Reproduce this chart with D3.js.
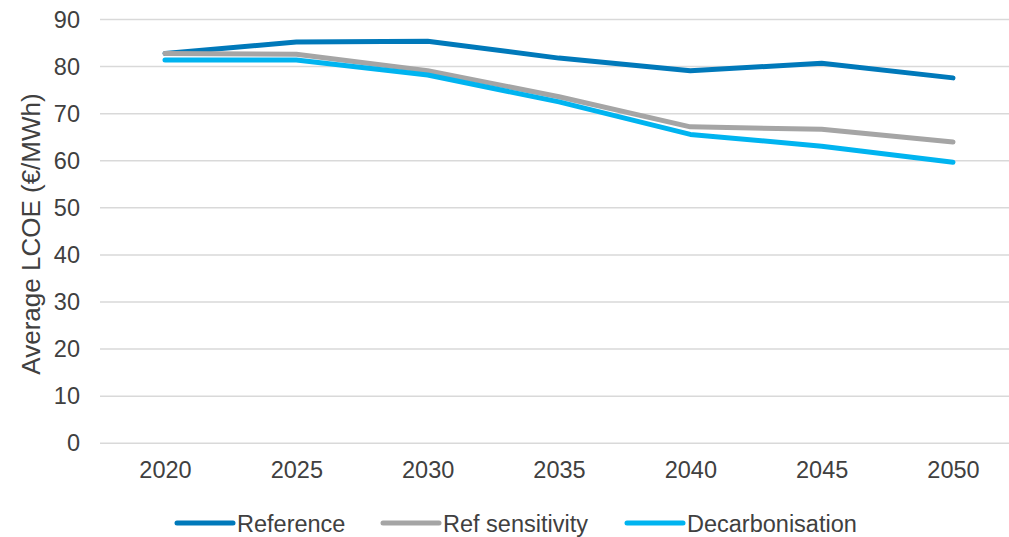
<!DOCTYPE html>
<html>
<head>
<meta charset="utf-8">
<script src="https://cdn.jsdelivr.net/npm/d3@7"></script>
<style>
  html, body { margin: 0; padding: 0; background: #fff; }
  svg { display: block; font-family: "Liberation Sans", Arial, sans-serif; }
</style>
</head>
<body>
<svg id="chart" width="1009" height="537"></svg>
<script>
const years = ["2020", "2025", "2030", "2035", "2040", "2045", "2050"];
const reference = [82.8, 85.2, 85.4, 81.8, 79.1, 80.7, 77.6];
const refSensitivity = [82.8, 82.6, 79.1, 73.6, 67.2, 66.7, 64.0];
const decarbonisation = [81.4, 81.4, 78.2, 72.5, 65.6, 63.1, 59.7];
const yTicks = [0, 10, 20, 30, 40, 50, 60, 70, 80, 90];
const seriesNames = ["Reference", "Ref sensitivity", "Decarbonisation"];
const seriesColors = ["#0079BA", "#A5A5A5", "#00B4F0"];

const series = [
  { name: seriesNames[0], values: reference, color: seriesColors[0] },
  { name: seriesNames[1], values: refSensitivity, color: seriesColors[1] },
  { name: seriesNames[2], values: decarbonisation, color: seriesColors[2] }
];

const svg = d3.select("#chart");
const gridLeft = 100, gridRight = 1009;

const x = d3.scalePoint().domain(years).range([165, 953]);
const y = d3.scaleLinear().domain([0, 90]).range([443.3, 19.5]);

// gridlines
svg.append("g")
  .selectAll("line")
  .data(yTicks)
  .join("line")
  .attr("x1", gridLeft).attr("x2", gridRight)
  .attr("y1", d => y(d)).attr("y2", d => y(d))
  .attr("stroke", "#D9D9D9")
  .attr("stroke-width", 1.5);

// y axis
const yAxis = svg.append("g")
  .attr("transform", "translate(80,0)")
  .call(d3.axisLeft(y).tickValues(yTicks).tickSize(0).tickPadding(0));
yAxis.select(".domain").remove();
yAxis.selectAll("text")
  .attr("font-family", "'Liberation Sans', Arial, sans-serif")
  .attr("font-size", 23.5)
  .attr("fill", "#404040");

// x axis
const xAxis = svg.append("g")
  .attr("transform", "translate(0,443.3)")
  .call(d3.axisBottom(x).tickSize(0).tickPadding(18));
xAxis.select(".domain").remove();
xAxis.selectAll("text")
  .attr("font-family", "'Liberation Sans', Arial, sans-serif")
  .attr("font-size", 23.5)
  .attr("fill", "#404040");

// y title
svg.append("text")
  .attr("transform", "translate(40,234) rotate(-90)")
  .attr("text-anchor", "middle")
  .attr("font-size", 26)
  .attr("fill", "#404040")
  .text("Average LCOE (€/MWh)");

// lines
const line = d3.line()
  .x((d, i) => x(years[i]))
  .y(d => y(d));

svg.append("g")
  .selectAll("path")
  .data(series)
  .join("path")
  .attr("d", d => line(d.values))
  .attr("fill", "none")
  .attr("stroke", d => d.color)
  .attr("stroke-width", 5)
  .attr("stroke-linecap", "round")
  .attr("stroke-linejoin", "round");

// legend
const legendX = [177, 383, 627];
const legend = svg.append("g")
  .selectAll("g")
  .data(series)
  .join("g")
  .attr("transform", (d, i) => `translate(${legendX[i]},523)`);
legend.append("line")
  .attr("x1", 0).attr("x2", 56)
  .attr("y1", 0).attr("y2", 0)
  .attr("stroke", d => d.color)
  .attr("stroke-width", 5)
  .attr("stroke-linecap", "round");
legend.append("text")
  .attr("x", 60)
  .attr("y", 8.5)
  .attr("font-size", 23.5)
  .attr("fill", "#404040")
  .text(d => d.name);
</script>
</body>
</html>
